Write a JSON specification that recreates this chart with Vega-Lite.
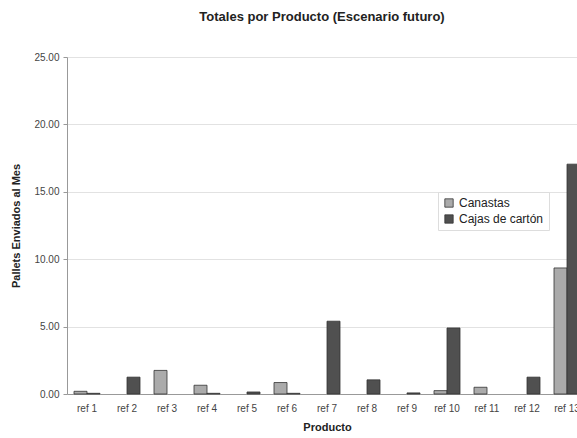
{
  "$schema": "https://vega.github.io/schema/vega-lite/v6.json",
  "width": 510,
  "height": 337,
  "autosize": {"type": "none"},
  "padding": {"left": 67, "right": 0, "top": 57, "bottom": 44},
  "background": "white",
  "title": {
    "text": "Totales por Producto (Escenario futuro)",
    "font": "Liberation Sans",
    "fontSize": 13,
    "fontWeight": "bold",
    "color": "#222",
    "anchor": "middle",
    "offset": 28
  },
  "data": {
    "values": [
      {"ref": "ref 1", "tipo": "Canastas", "valor": 0.2},
      {"ref": "ref 1", "tipo": "Cajas de cartón", "valor": 0.05},
      {"ref": "ref 2", "tipo": "Cajas de cartón", "valor": 1.25},
      {"ref": "ref 3", "tipo": "Canastas", "valor": 1.75},
      {"ref": "ref 4", "tipo": "Canastas", "valor": 0.65},
      {"ref": "ref 4", "tipo": "Cajas de cartón", "valor": 0.05},
      {"ref": "ref 5", "tipo": "Cajas de cartón", "valor": 0.15},
      {"ref": "ref 6", "tipo": "Canastas", "valor": 0.85},
      {"ref": "ref 6", "tipo": "Cajas de cartón", "valor": 0.05},
      {"ref": "ref 7", "tipo": "Cajas de cartón", "valor": 5.4},
      {"ref": "ref 8", "tipo": "Cajas de cartón", "valor": 1.05},
      {"ref": "ref 9", "tipo": "Cajas de cartón", "valor": 0.08},
      {"ref": "ref 10", "tipo": "Canastas", "valor": 0.25},
      {"ref": "ref 10", "tipo": "Cajas de cartón", "valor": 4.9},
      {"ref": "ref 11", "tipo": "Canastas", "valor": 0.5},
      {"ref": "ref 12", "tipo": "Cajas de cartón", "valor": 1.25},
      {"ref": "ref 13", "tipo": "Canastas", "valor": 9.35},
      {"ref": "ref 13", "tipo": "Cajas de cartón", "valor": 17.05}
    ]
  },
  "mark": {"type": "bar", "stroke": "#333", "strokeWidth": 0.8},
  "encoding": {
    "x": {
      "field": "ref",
      "type": "nominal",
      "sort": null,
      "scale": {"range": [0, 520], "paddingInner": 0.35, "paddingOuter": 0.175},
      "axis": {
        "title": "Producto",
        "titleFont": "Liberation Sans",
        "titleFontSize": 11,
        "titleFontWeight": "bold",
        "titleColor": "#222",
        "titlePadding": 8,
        "labelAngle": 0,
        "labelFont": "Liberation Sans",
        "labelFontSize": 10,
        "labelColor": "#444",
        "labelPadding": 9,
        "ticks": false,
        "domainColor": "#999",
        "grid": false
      }
    },
    "xOffset": {
      "field": "tipo",
      "type": "nominal",
      "sort": ["Canastas", "Cajas de cartón"],
      "scale": {"paddingInner": 0, "paddingOuter": 0}
    },
    "y": {
      "field": "valor",
      "type": "quantitative",
      "scale": {"domain": [0, 25], "nice": false},
      "axis": {
        "title": "Pallets Enviados al Mes",
        "titleFont": "Liberation Sans",
        "titleFontSize": 11,
        "titleFontWeight": "bold",
        "titleColor": "#222",
        "titlePadding": 12,
        "values": [0, 5, 10, 15, 20, 25],
        "format": ".2f",
        "labelFont": "Liberation Sans",
        "labelFontSize": 10,
        "labelColor": "#444",
        "labelPadding": 4,
        "tickColor": "#999",
        "tickSize": 4,
        "domainColor": "#999",
        "gridColor": "#e2e2e2"
      }
    },
    "color": {
      "field": "tipo",
      "type": "nominal",
      "sort": ["Canastas", "Cajas de cartón"],
      "scale": {"domain": ["Canastas", "Cajas de cartón"], "range": ["#ababab", "#505050"]},
      "legend": {
        "title": null,
        "orient": "none",
        "legendX": 371,
        "legendY": 135,
        "symbolType": "square",
        "symbolSize": 70,
        "symbolStrokeColor": "#333",
        "symbolStrokeWidth": 0.8,
        "labelFont": "Liberation Sans",
        "labelFontSize": 12,
        "labelColor": "#222",
        "rowPadding": 4,
        "strokeColor": "#ddd",
        "padding": 5
      }
    }
  },
  "config": {"view": {"stroke": null}}
}
